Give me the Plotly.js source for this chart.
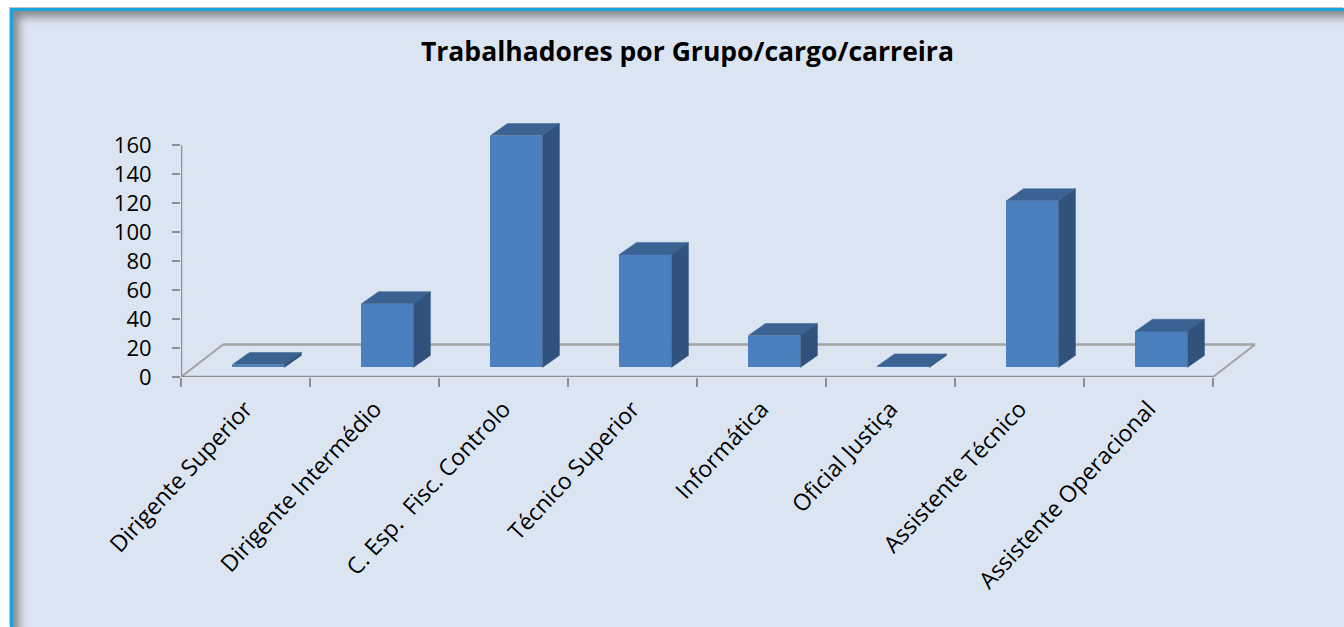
<!DOCTYPE html>
<html><head><meta charset="utf-8">
<script src="https://cdn.plot.ly/plotly-3.0.1.min.js"></script>
<style>
html,body{margin:0;padding:0;background:#fff;width:1344px;height:627px;overflow:hidden;}
#frame{position:absolute;left:10px;top:8px;width:1334px;height:619px;box-sizing:border-box;border-top:3px solid #1aa3dc;border-left:3px solid #1aa3dc;background:#dbe5f1;box-shadow:inset 9px 9px 9px -3px rgba(60,60,60,0.55), -1px -1px 0 #c4c4c4;}
#chart{position:absolute;left:0;top:0;width:1344px;height:627px;}
</style></head><body>
<div id="frame"></div><div id="chart"></div>
<script>
// ---- data ----
const categories = ["Dirigente Superior","Dirigente Intermédio","C. Esp.  Fisc. Controlo","Técnico Superior","Informática","Oficial Justiça","Assistente Técnico","Assistente Operacional"];
const values = [2, 44, 160, 78, 22, 1, 115, 25];
const yTickValues = [0, 20, 40, 60, 80, 100, 120, 140, 160];
const chartTitle = "Trabalhadores por Grupo/cargo/carreira";

// ---- 3D pseudo-perspective geometry (in axis units) ----
const barShiftX = 0.10, barBase = 6.6, barWidth = 0.403;
const depthX = 0.132, depthY = 8.3;
const floorDX = 0.326, floorDY = 22.4;
const yMaxAxis = yTickValues[yTickValues.length - 1];

const n = categories.length;
const idx = categories.map((_, i) => i);
const boundaries = [];
for (let i = 0; i <= n; i++) boundaries.push(i - 0.5);

const frontColor = '#4b7fbe', topColor = '#3a6293', sideColor = '#30527d';
const axisGray = '#8f8f8f';

// front faces
const front = {
  type: 'bar', x: idx.map(i => i + barShiftX), y: values, base: values.map(() => barBase),
  width: barWidth, marker: {color: frontColor, line: {width: 0}}, hoverinfo: 'skip', showlegend: false
};
// top and side faces
const tx = [], ty = [], sx = [], sy = [];
values.forEach((v, i) => {
  const x0 = i + barShiftX - barWidth / 2, x1 = x0 + barWidth;
  const t = barBase + v;
  tx.push(x0, x1, x1 + depthX, x0 + depthX, x0, null);
  ty.push(t, t, t + depthY, t + depthY, t, null);
  sx.push(x1, x1, x1 + depthX, x1 + depthX, x1, null);
  sy.push(barBase, t, t + depthY, barBase + depthY, barBase, null);
});
const tops = {type: 'scatter', mode: 'lines', x: tx, y: ty, fill: 'toself', fillcolor: topColor,
  line: {width: 0.5, color: topColor}, hoverinfo: 'skip', showlegend: false};
const sides = {type: 'scatter', mode: 'lines', x: sx, y: sy, fill: 'toself', fillcolor: sideColor,
  line: {width: 0.5, color: sideColor}, hoverinfo: 'skip', showlegend: false};

const xMin = boundaries[0], xMaxFront = boundaries[n];
const shapes = [
  // floor
  {type: 'line', xref: 'x', yref: 'y', x0: xMin + floorDX, y0: floorDY, x1: xMaxFront + floorDX, y1: floorDY, line: {color: '#a3a3a3', width: 2.5}, layer: 'below'},
  {type: 'line', xref: 'x', yref: 'y', x0: xMin, y0: 0, x1: xMin + floorDX, y1: floorDY, line: {color: '#a3a3a3', width: 2}, layer: 'below'},
  {type: 'line', xref: 'x', yref: 'y', x0: xMaxFront, y0: 0, x1: xMaxFront + floorDX, y1: floorDY, line: {color: '#a3a3a3', width: 2}, layer: 'below'},
  // axes lines
  {type: 'line', xref: 'x', yref: 'y', x0: xMin, y0: 0, x1: xMaxFront, y1: 0, line: {color: axisGray, width: 2.5}, layer: 'below'},
  {type: 'line', xref: 'x', yref: 'y', x0: xMin, y0: 0, x1: xMin, y1: yMaxAxis, line: {color: axisGray, width: 2.5}, layer: 'below'}
];

const layout = {
  width: 1344, height: 627,
  margin: {l: 181, r: 87, t: 122, b: 250, pad: 0},
  paper_bgcolor: 'rgba(0,0,0,0)', plot_bgcolor: 'rgba(0,0,0,0)',
  title: {text: '<b>' + chartTitle + '</b>', font: {family: 'Open Sans', size: 26.5, color: '#000'},
    xref: 'container', yref: 'container', x: 0.5115, y: 0.917, xanchor: 'center', yanchor: 'middle'},
  showlegend: false,
  xaxis: {range: [xMin, xMaxFront + floorDX + 0.015], tickmode: 'array', tickvals: idx, ticktext: categories,
    tickangle: -47, ticks: '', showgrid: false, zeroline: false, showline: false,
    tickfont: {family: 'Open Sans', size: 23, color: '#000'}, ticklabelstandoff: 13,
    minor: {tickmode: 'array', tickvals: boundaries, ticks: 'outside', ticklen: 9, tickwidth: 2, tickcolor: axisGray, showgrid: false},
    fixedrange: true},
  yaxis: {range: [0, 176], tickmode: 'array', tickvals: yTickValues, ticks: 'outside', ticklen: 8, tickwidth: 2,
    tickcolor: axisGray, showgrid: false, zeroline: false, showline: false, ticklabelstandoff: 16,
    tickfont: {family: 'Open Sans', size: 22, color: '#000'}, fixedrange: true},
  bargap: 0,
  shapes: shapes
};

Plotly.newPlot('chart', [front, tops, sides], layout, {displayModeBar: false, staticPlot: true});
</script>
</body></html>
